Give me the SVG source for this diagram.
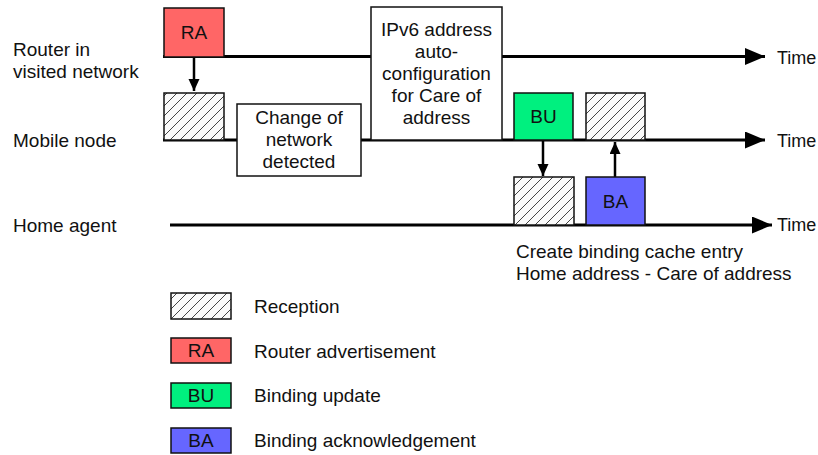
<svg xmlns="http://www.w3.org/2000/svg" width="818" height="455" viewBox="0 0 818 455">
<style>
text{font-family:"Liberation Sans",Arial,Helvetica,sans-serif;font-size:19px;fill:#111}
.c{text-anchor:middle}
.t{font-size:18px}
.box{stroke:#111;stroke-width:1.5}
.tl{stroke:#000;stroke-width:3;fill:none}
.ar{stroke:#000;stroke-width:2.5;fill:none}
</style>
<defs>
<pattern id="hatch" patternUnits="userSpaceOnUse" width="10" height="10">
<rect width="10" height="10" fill="#fafafa"/>
<path d="M-2.5,2.5 L2.5,-2.5 M0,10 L10,0 M7.5,12.5 L12.5,7.5" stroke="#444" stroke-width="1"/>
</pattern>
<marker id="big" markerUnits="userSpaceOnUse" markerWidth="22" markerHeight="18" refX="20" refY="8.5" orient="auto">
<path d="M0,0 L20,8.5 L0,17 Z" fill="#000"/>
</marker>
<marker id="small" markerUnits="userSpaceOnUse" markerWidth="14" markerHeight="12" refX="12" refY="5.5" orient="auto">
<path d="M0,0 L12,5.5 L0,11 Z" fill="#000"/>
</marker>
</defs>

<g id="labels">
<text x="13" y="56">Router in</text>
<text x="13" y="78">visited network</text>
<text x="13" y="147">Mobile node</text>
<text x="13" y="232">Home agent</text>
<text class="t" x="777" y="64">Time</text>
<text class="t" x="777" y="147">Time</text>
<text class="t" x="777" y="231">Time</text>
<text x="516" y="258">Create binding cache entry</text>
<text x="516" y="280">Home address - Care of address</text>
</g>

<g id="connectors">
<path class="tl" d="M163,56.5 H765" marker-end="url(#big)"/>
<path class="tl" d="M163,140 H765" marker-end="url(#big)"/>
<path class="tl" d="M170,225 H772" marker-end="url(#big)"/>
<path class="ar" d="M194,57 V91" marker-end="url(#small)"/>
<path class="ar" d="M543,140 V176" marker-end="url(#small)"/>
<path class="ar" d="M615,177 V142" marker-end="url(#small)"/>
</g>

<g id="ra"><rect class="box" x="164" y="8" width="60" height="49" fill="#ff6666"/><text class="c" x="194" y="39">RA</text></g>
<g id="rx1"><rect class="box" x="164" y="93" width="60" height="47" fill="url(#hatch)"/></g>
<g id="change"><rect class="box" x="237" y="104" width="124" height="72" fill="#fff"/>
<text class="c" x="299" y="124">Change of</text><text class="c" x="299" y="146">network</text><text class="c" x="299" y="168">detected</text></g>
<g id="ipv6"><rect class="box" x="371" y="7" width="131" height="133" fill="#fff"/>
<text class="c" x="436.5" y="36">IPv6 address</text><text class="c" x="436.5" y="58">auto-</text><text class="c" x="436.5" y="80">configuration</text><text class="c" x="436.5" y="102">for Care of</text><text class="c" x="436.5" y="124">address</text></g>
<g id="bu"><rect class="box" x="514" y="93" width="59" height="47" fill="#00f07f"/><text class="c" x="543.5" y="123">BU</text></g>
<g id="rx2"><rect class="box" x="586" y="93" width="59" height="47" fill="url(#hatch)"/></g>
<g id="rx3"><rect class="box" x="514" y="177" width="60" height="48" fill="url(#hatch)"/></g>
<g id="ba"><rect class="box" x="586" y="177" width="59" height="48" fill="#6666ff"/><text class="c" x="615.5" y="208">BA</text></g>

<g id="legend">
<rect class="box" x="171" y="293" width="60" height="26" fill="url(#hatch)"/>
<text x="254" y="313">Reception</text>
<rect class="box" x="171" y="338" width="60" height="25" fill="#ff6666"/>
<text class="c" x="201" y="357">RA</text>
<text x="254" y="358">Router advertisement</text>
<rect class="box" x="171" y="383" width="60" height="25" fill="#00f07f"/>
<text class="c" x="201" y="402">BU</text>
<text x="254" y="402">Binding update</text>
<rect class="box" x="171" y="428" width="60" height="25" fill="#6666ff"/>
<text class="c" x="201" y="447">BA</text>
<text x="254" y="447">Binding acknowledgement</text>
</g>
</svg>
